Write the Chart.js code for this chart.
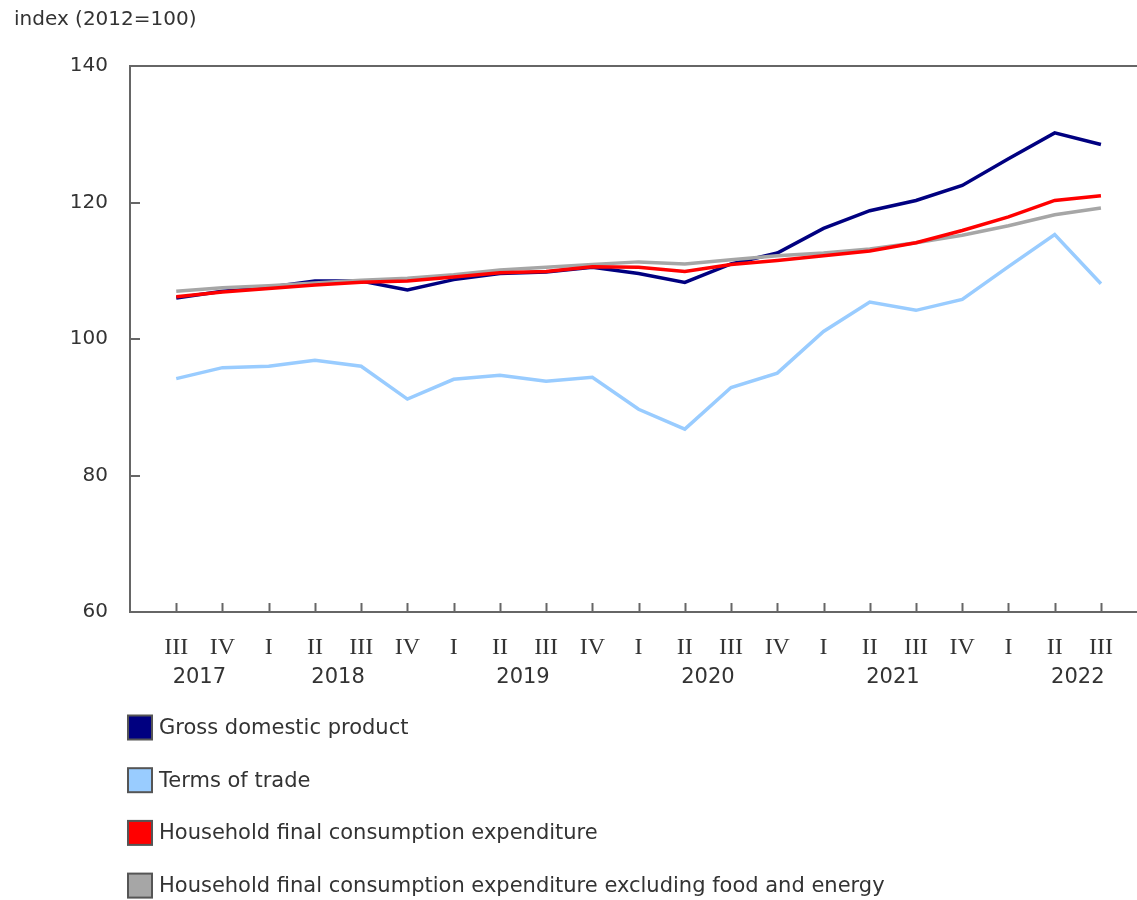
<!DOCTYPE html>
<html>
<head>
<meta charset="utf-8">
<script src="https://cdn.jsdelivr.net/npm/chart.js@4/dist/chart.umd.min.js"></script>
<style>
  html, body { margin: 0; padding: 0; background: #ffffff; }
  #wrap { width: 1137px; height: 900px; position: relative; }
</style>
</head>
<body>
<div id="wrap"><canvas id="c" width="1137" height="900"></canvas></div>
<script>
// ---- Data ----
const quarterLabels = ['III','IV','I','II','III','IV','I','II','III','IV','I','II','III','IV','I','II','III','IV','I','II','III'];
const yearLabels = ['2017','2018','2019','2020','2021','2022'];
const yearPositions = [0.5, 3.5, 7.5, 11.5, 15.5, 19.5];
const yTicks = [60, 80, 100, 120, 140];
const seriesNames = [
  'Gross domestic product',
  'Terms of trade',
  'Household final consumption expenditure',
  'Household final consumption expenditure excluding food and energy'
];
const gdp   = [106.0, 107.0, 107.6, 108.5, 108.5, 107.2, 108.7, 109.6, 109.8, 110.5, 109.6, 108.3, 111.0, 112.6, 116.2, 118.8, 120.3, 122.5, 126.4, 130.2, 128.5];
const tot   = [94.2, 95.8, 96.0, 96.9, 96.0, 91.2, 94.1, 94.7, 93.8, 94.4, 89.7, 86.8, 92.9, 95.0, 101.1, 105.4, 104.2, 105.8, 110.6, 115.3, 108.1];
const hfce  = [106.2, 106.9, 107.4, 107.9, 108.3, 108.5, 109.1, 109.7, 109.9, 110.6, 110.5, 109.9, 110.9, 111.5, 112.2, 112.9, 114.1, 115.9, 117.9, 120.3, 121.0];
const hfceX = [107.0, 107.5, 107.8, 108.2, 108.6, 108.9, 109.4, 110.1, 110.5, 110.9, 111.3, 111.0, 111.6, 112.2, 112.6, 113.2, 114.1, 115.2, 116.6, 118.2, 119.2];
const colors = ['#000080', '#99ccff', '#ff0000', '#a6a6a6'];

const toPoints = arr => arr.map((v, i) => ({ x: i, y: v }));
const allSeries = [gdp, tot, hfce, hfceX];
const drawOrder = [4, 3, 1, 2];

const SANS = "'DejaVu Sans', Verdana, sans-serif";
const SERIF = "'Liberation Serif', 'Times New Roman', serif";
const TEXT = '#333333';
const AXIS = '#666666';

const frameAndTicks = {
  id: 'frameAndTicks',
  afterDatasetsDraw(chart) {
    const { ctx, chartArea } = chart;
    const x = chart.scales.x, y = chart.scales.y;
    ctx.save();
    ctx.strokeStyle = AXIS;
    ctx.lineWidth = 2;
    ctx.beginPath();
    ctx.moveTo(chartArea.left, chartArea.top);
    ctx.lineTo(chartArea.right, chartArea.top);
    ctx.stroke();
    quarterLabels.forEach((q, i) => {
      const px = Math.round(x.getPixelForValue(i)) + 0.5;
      ctx.beginPath();
      ctx.moveTo(px, chartArea.bottom);
      ctx.lineTo(px, chartArea.bottom - 9);
      ctx.stroke();
    });
    yTicks.forEach(v => {
      const py = Math.round(y.getPixelForValue(v));
      ctx.beginPath();
      ctx.moveTo(chartArea.left, py);
      ctx.lineTo(chartArea.left + 10, py);
      ctx.stroke();
    });
    ctx.restore();
  }
};

const bottomLegend = {
  id: 'bottomLegend',
  afterDraw(chart) {
    const { ctx } = chart;
    ctx.save();
    ctx.font = '21px ' + SANS;
    ctx.textBaseline = 'middle';
    chart.data.datasets.forEach((ds, i) => {
      const cy = 727.5 + i * 52.7;
      ctx.fillStyle = ds.borderColor;
      ctx.fillRect(128, cy - 12, 24, 24);
      ctx.strokeStyle = '#555555';
      ctx.lineWidth = 2;
      ctx.strokeRect(128, cy - 12, 24, 24);
      ctx.fillStyle = TEXT;
      ctx.fillText(ds.label, 159, cy + 1);
    });
    ctx.restore();
  }
};

new Chart(document.getElementById('c'), {
  type: 'line',
  data: {
    datasets: allSeries.map((s, i) => ({
      label: seriesNames[i],
      data: toPoints(s),
      borderColor: colors[i],
      backgroundColor: colors[i],
      borderWidth: 3.5,
      pointRadius: 0,
      tension: 0,
      fill: false,
      order: drawOrder[i]
    }))
  },
  options: {
    responsive: false,
    animation: false,
    layout: { padding: { left: 14, right: 0, top: 0, bottom: 208 } },
    plugins: {
      legend: { display: false },
      tooltip: { enabled: false },
      title: {
        display: true,
        text: 'index (2012=100)',
        align: 'start',
        color: TEXT,
        font: { family: SANS, size: 20, weight: 'normal' },
        padding: { top: 8, bottom: 34 }
      }
    },
    scales: {
      x: {
        type: 'linear',
        position: 'bottom',
        min: -1,
        max: 20.78,
        afterBuildTicks: s => { s.ticks = quarterLabels.map((q, i) => ({ value: i })); },
        afterFit: s => { s.height = 50; },
        ticks: {
          autoSkip: false,
          maxRotation: 0,
          padding: 21,
          color: TEXT,
          font: { family: SERIF, size: 24 },
          callback: v => quarterLabels[v]
        },
        grid: { display: false, drawTicks: false },
        border: { display: true, color: AXIS, width: 2 }
      },
      x2: {
        type: 'linear',
        position: 'bottom',
        min: -1,
        max: 20.78,
        afterBuildTicks: s => { s.ticks = yearPositions.map(p => ({ value: p })); },
        afterFit: s => { s.height = 30; },
        ticks: {
          autoSkip: false,
          maxRotation: 0,
          padding: 3,
          color: TEXT,
          font: { family: SANS, size: 21 },
          callback: (v, idx) => yearLabels[idx]
        },
        grid: { display: false, drawTicks: false },
        border: { display: false }
      },
      y: {
        min: 60,
        max: 140,
        afterBuildTicks: s => { s.ticks = yTicks.map(v => ({ value: v })); },
        afterFit: s => { s.width = 116; },
        ticks: {
          padding: 22,
          color: TEXT,
          font: { family: SANS, size: 20 }
        },
        grid: { display: false, drawTicks: false },
        border: { display: true, color: AXIS, width: 2 }
      }
    }
  },
  plugins: [frameAndTicks, bottomLegend]
});
</script>
</body>
</html>
